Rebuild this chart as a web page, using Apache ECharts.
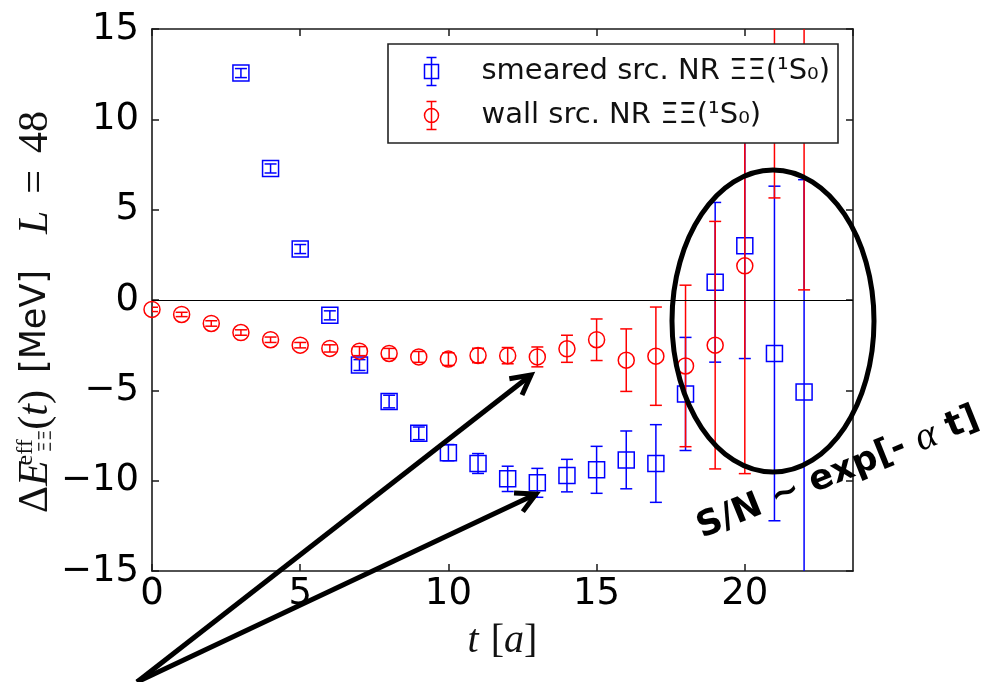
<!DOCTYPE html>
<html>
<head>
<meta charset="utf-8">
<script src="https://cdn.jsdelivr.net/npm/echarts@6/dist/echarts.min.js"></script>
<style>
  html, body { margin: 0; padding: 0; background: #fff; }
  #chart { width: 988px; height: 682px; }
</style>
</head>
<body>
<div id="chart"></div>
<script>
// Effective energy shift of the XiXi (1S0) channel, L = 48, two source types.
const smearedT   = [3, 4, 5, 6, 7, 8, 9, 10, 11, 12, 13, 14, 15, 16, 17, 18, 19, 20, 21, 22];
const smearedE   = [12.56, 7.28, 2.82, -0.85, -3.6, -5.62, -7.38, -8.45, -9.05, -9.9, -10.12, -9.72, -9.4, -8.85, -9.05, -5.2, 0.98, 3.0, -2.96, -5.09];
const smearedErr = [0.25, 0.25, 0.25, 0.25, 0.3, 0.35, 0.35, 0.45, 0.55, 0.7, 0.8, 0.9, 1.3, 1.6, 2.15, 3.13, 4.42, 6.24, 9.26, 11.75];

const wallT   = [0, 1, 2, 3, 4, 5, 6, 7, 8, 9, 10, 11, 12, 13, 14, 15, 16, 17, 18, 19, 20, 21, 22];
const wallE   = [-0.52, -0.8, -1.3, -1.8, -2.2, -2.5, -2.68, -2.83, -2.96, -3.15, -3.27, -3.07, -3.08, -3.15, -2.7, -2.2, -3.33, -3.11, -3.65, -2.5, 1.89, 16.8, 18.5];
const wallErr = [0.12, 0.12, 0.15, 0.15, 0.15, 0.15, 0.2, 0.25, 0.28, 0.3, 0.35, 0.4, 0.45, 0.55, 0.75, 1.15, 1.73, 2.72, 4.47, 6.85, 11.5, 11.15, 17.94];

const xTicks = [0, 5, 10, 15, 20];
const xMax = 23.65;
const yTicks = [-15, -10, -5, 0, 5, 10, 15];

const seriesNames = ['smeared src. NR ΞΞ(¹S₀)', 'wall src. NR ΞΞ(¹S₀)'];
const BLUE = '#0000ff';
const RED = '#ff0000';

const chart = echarts.init(document.getElementById('chart'), null, { renderer: 'canvas' });

function errorBars(color) {
  return function (params, api) {
    const t = api.value(0), m = api.value(1), e = api.value(2);
    const hi = api.coord([t, m + e]);
    const lo = api.coord([t, m - e]);
    const hw = 6;
    const style = { stroke: color, lineWidth: 1.5, fill: null };
    return {
      type: 'group',
      children: [
        { type: 'line', shape: { x1: hi[0], y1: hi[1], x2: lo[0], y2: lo[1] }, style: style },
        { type: 'line', shape: { x1: hi[0] - hw, y1: hi[1], x2: hi[0] + hw, y2: hi[1] }, style: style },
        { type: 'line', shape: { x1: lo[0] - hw, y1: lo[1], x2: lo[0] + hw, y2: lo[1] }, style: style }
      ]
    };
  };
}

const tickFont = { fontFamily: 'DejaVu Sans', fontSize: 37, color: '#000' };
const axisLineStyle = { color: '#1a1a1a', width: 1.6 };
const tickStyle = { show: true, inside: true, length: 7, lineStyle: { color: '#1a1a1a', width: 1.5 } };

function minusFmt(v) { return v < 0 ? '\u2212' + Math.abs(v) : String(v); }

const serif = 'Liberation Serif';
const LH = 52;
const yName = '{d|Δ}{e|E}{k| }{sup|eff}{sub|ΞΞ}{p|(}{e|t}{p|)}{g| }{s|[MeV]}{gg| }{e|L}{g| }{p|=}{g| }{p|48}';
const yRich = {
  d:   { fontFamily: serif, fontSize: 42, lineHeight: LH, color: '#111' },
  e:   { fontFamily: serif, fontStyle: 'italic', fontSize: 42, lineHeight: LH, color: '#111' },
  p:   { fontFamily: serif, fontSize: 42, lineHeight: LH, color: '#111' },
  k:   { fontSize: 10, width: 8, lineHeight: LH },
  sup: { fontFamily: serif, fontSize: 24, lineHeight: LH, verticalAlign: 'top', width: 0, color: '#111', padding: [4, 0, 0, 0] },
  sub: { fontFamily: 'DejaVu Sans', fontSize: 18, lineHeight: LH, verticalAlign: 'bottom', color: '#333', padding: [0, 0, 7, 0] },
  s:   { fontFamily: 'DejaVu Sans', fontSize: 35, lineHeight: LH, color: '#111' },
  g:   { fontSize: 10, width: 17, lineHeight: LH },
  gg:  { fontSize: 10, width: 36, lineHeight: LH }
};

const option = {
  backgroundColor: '#fff',
  animation: false,
  grid: { left: 152, right: 135, top: 29, bottom: 111, containLabel: false, outerBoundsMode: 'none' },
  legend: {
    orient: 'vertical',
    left: 388,
    top: 44,
    selectedMode: false,
    backgroundColor: '#fff',
    borderColor: '#222',
    borderWidth: 1.6,
    borderRadius: 0,
    padding: [11, 8, 11, 34],
    itemWidth: 16,
    itemHeight: 28,
    itemGap: 11,
    textStyle: { fontFamily: 'DejaVu Sans', fontSize: 29, color: '#111', padding: [0, 0, 0, 37] },
    data: [
      { name: seriesNames[0], icon: 'path://M3,0L13,0M8,0L8,28M3,28L13,28M1,7L15,7L15,21L1,21Z',
        itemStyle: { color: 'none', borderColor: BLUE, borderWidth: 1.5 } },
      { name: seriesNames[1], icon: 'path://M3,0L13,0M8,0L8,28M3,28L13,28M1,14A7,7,0,1,1,15,14A7,7,0,1,1,1,14Z',
        itemStyle: { color: 'none', borderColor: RED, borderWidth: 1.5 } }
    ]
  },
  xAxis: [
    {
      type: 'value', position: 'bottom', min: xTicks[0], max: xMax, interval: xTicks[1] - xTicks[0],
      name: '{i|t}{g| }{p|[}{i|a}{p|]}', nameLocation: 'middle', nameGap: 50, nameMoveOverlap: false,
      nameTextStyle: { rich: {
        i: { fontFamily: serif, fontStyle: 'italic', fontSize: 40, color: '#111' },
        p: { fontFamily: serif, fontSize: 40, color: '#111' },
        g: { fontSize: 10, width: 12 }
      } },
      axisLine: { show: true, onZero: false, lineStyle: axisLineStyle },
      axisTick: tickStyle,
      axisLabel: Object.assign({ margin: 5, showMaxLabel: false,
        formatter: function (v) { return xTicks.indexOf(v) >= 0 ? String(v) : ''; } }, tickFont),
      splitLine: { show: false }
    },
    {
      type: 'value', position: 'top', min: xTicks[0], max: xMax, interval: xTicks[1] - xTicks[0],
      axisLine: { show: true, onZero: false, lineStyle: axisLineStyle },
      axisTick: tickStyle,
      axisLabel: { show: false },
      splitLine: { show: false }
    }
  ],
  yAxis: [
    {
      type: 'value', position: 'left', min: yTicks[0], max: yTicks[yTicks.length - 1], interval: yTicks[1] - yTicks[0],
      name: yName, nameLocation: 'middle', nameGap: 90, nameRotate: 90, nameMoveOverlap: false,
      nameTextStyle: { rich: yRich, padding: [0, 24, 0, 0] },
      axisLine: { show: true, onZero: false, lineStyle: axisLineStyle },
      axisTick: tickStyle,
      axisLabel: Object.assign({ margin: 13, formatter: minusFmt }, tickFont),
      splitLine: { show: false }
    },
    {
      type: 'value', position: 'right', min: yTicks[0], max: yTicks[yTicks.length - 1], interval: yTicks[1] - yTicks[0],
      axisLine: { show: true, onZero: false, lineStyle: axisLineStyle },
      axisTick: tickStyle,
      axisLabel: { show: false },
      splitLine: { show: false }
    }
  ],
  series: [
    {
      type: 'custom', name: seriesNames[0] + ' err', silent: true, clip: true,
      renderItem: errorBars(BLUE),
      data: smearedT.map(function (t, i) { return [t, smearedE[i], smearedErr[i]]; }),
      z: 2
    },
    {
      type: 'scatter', name: seriesNames[0], silent: true, clip: true,
      symbol: 'rect', symbolSize: 16,
      itemStyle: { color: 'none', borderColor: BLUE, borderWidth: 1.5, opacity: 1 },
      emphasis: { disabled: true },
      data: smearedT.map(function (t, i) { return [t, smearedE[i]]; }),
      markLine: {
        silent: true, symbol: ['none', 'none'], label: { show: false },
        lineStyle: { color: '#000', width: 1.2, type: 'solid' },
        emphasis: { disabled: true },
        data: [{ yAxis: 0 }]
      },
      z: 2
    },
    {
      type: 'custom', name: seriesNames[1] + ' err', silent: true, clip: true,
      renderItem: errorBars(RED),
      data: wallT.map(function (t, i) { return [t, wallE[i], wallErr[i]]; }),
      z: 3
    },
    {
      type: 'scatter', name: seriesNames[1], silent: true, clip: true,
      symbol: 'circle', symbolSize: 16,
      itemStyle: { color: 'none', borderColor: RED, borderWidth: 1.5, opacity: 1 },
      emphasis: { disabled: true },
      data: wallT.map(function (t, i) { return [t, wallE[i]]; }),
      z: 3
    }
  ]
};

chart.setOption(option);

// Annotations: arrows toward the plateaus, ellipse around the noisy region, S/N note.
function arrow(x0, y0, x1, y1) {
  const dx = x1 - x0, dy = y1 - y0, len = Math.sqrt(dx * dx + dy * dy);
  const ux = dx / len, uy = dy / len, L = 22, a = 28 * Math.PI / 180;
  const c = Math.cos(a), s = Math.sin(a);
  const l1 = [x1 - L * (ux * c - uy * s), y1 - L * (uy * c + ux * s)];
  const l2 = [x1 - L * (ux * c + uy * s), y1 - L * (uy * c - ux * s)];
  const st = { stroke: '#000', lineWidth: 5, fill: null, lineJoin: 'miter', lineCap: 'butt' };
  return [
    { type: 'line', z: 100, silent: true, shape: { x1: x0, y1: y0, x2: x1, y2: y1 }, style: st },
    { type: 'polyline', z: 100, silent: true, shape: { points: [l1, [x1, y1], l2] }, style: st }
  ];
}

const tail = [137, 682];
const graphics = []
  .concat(arrow(tail[0], tail[1], 531, 375))
  .concat(arrow(tail[0], tail[1], 536, 494));
graphics.push({
  type: 'ellipse', z: 100, silent: true,
  shape: { cx: 773, cy: 321, rx: 101, ry: 151 },
  style: { fill: null, stroke: '#000', lineWidth: 5 }
});
graphics.push({
  type: 'text', z: 100, silent: true,
  x: 706, y: 548, rotation: 22 * Math.PI / 180,
  style: {
    text: 'S/N ~ exp[- {a|α} t]',
    fontFamily: 'DejaVu Sans', fontWeight: 'bold', fontSize: 35, fill: '#000',
    textAlign: 'left', textVerticalAlign: 'bottom',
    rich: { a: { fontFamily: serif, fontStyle: 'italic', fontWeight: 'normal', fontSize: 40, fill: '#000' } }
  }
});
chart.setOption({ graphic: graphics });
</script>
</body>
</html>
